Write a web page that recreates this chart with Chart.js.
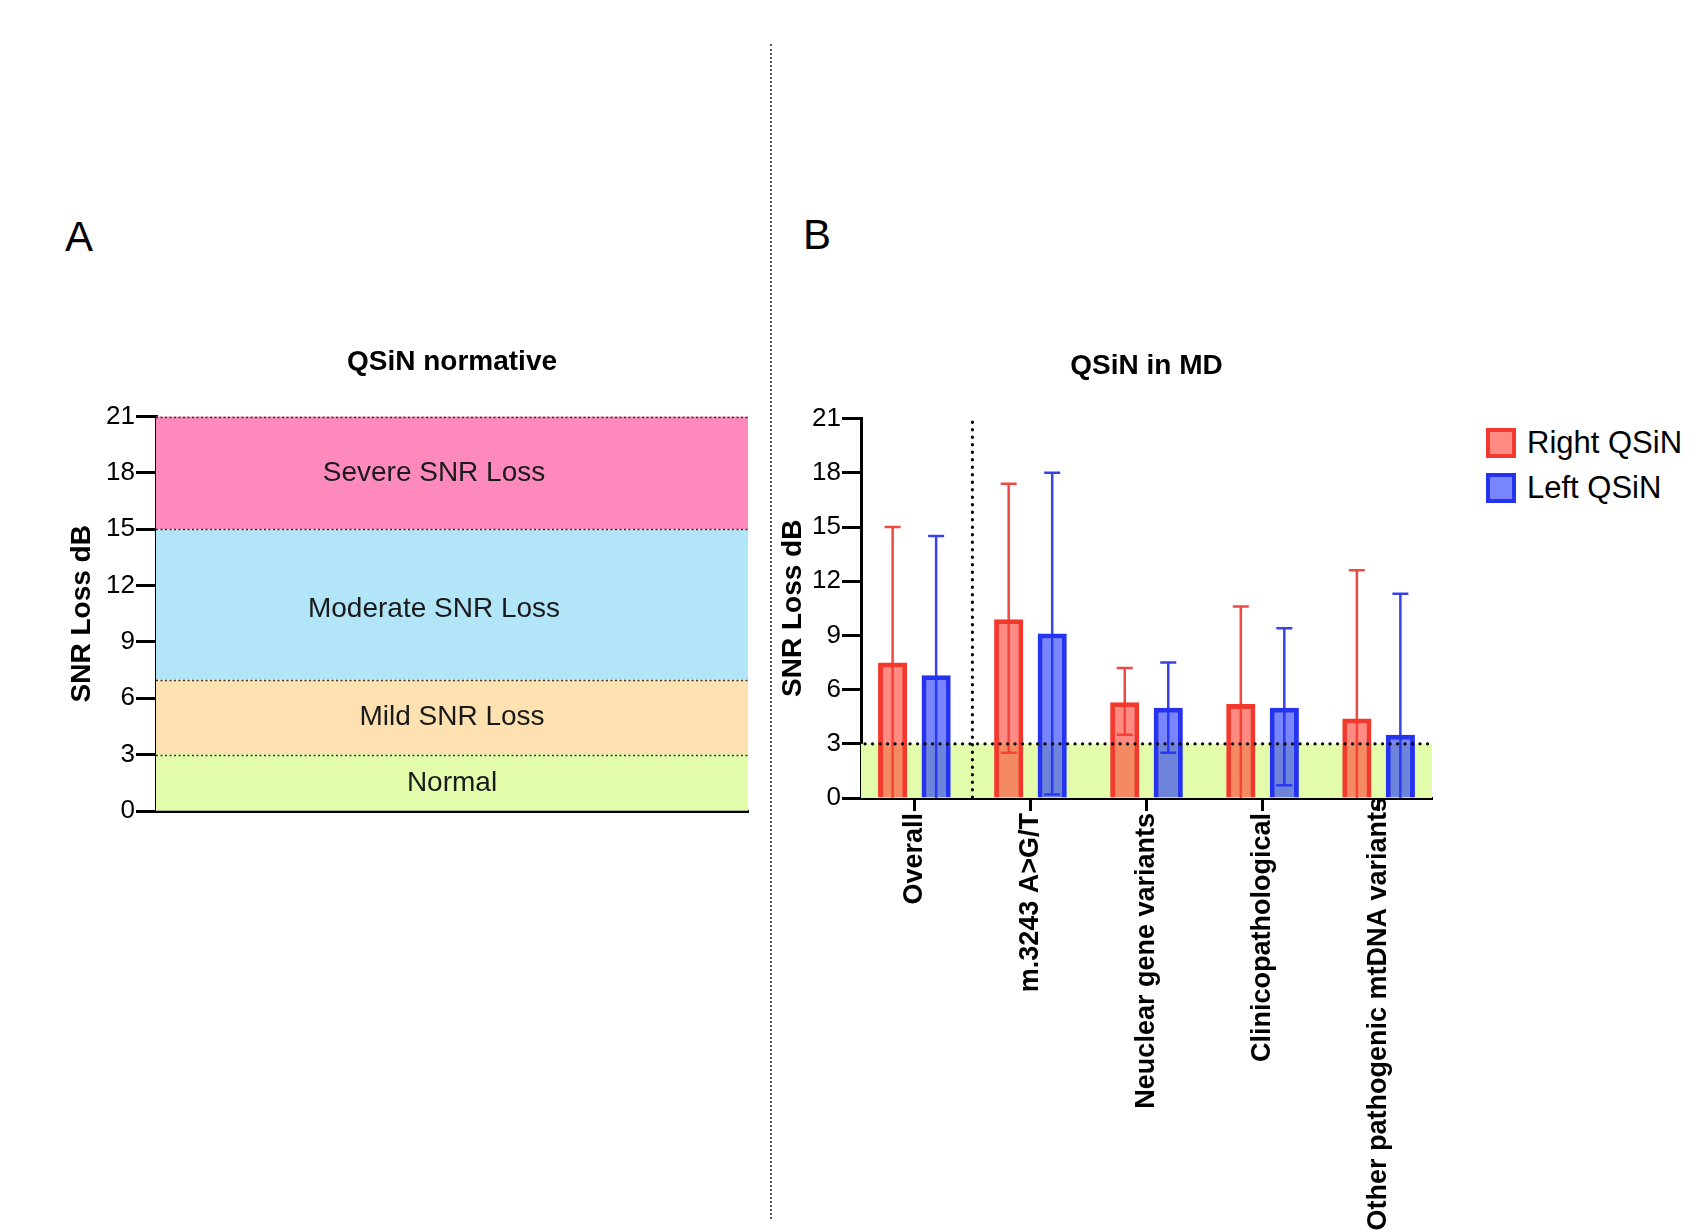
<!DOCTYPE html>
<html lang="en">
<head>
<meta charset="utf-8">
<script src="https://cdn.jsdelivr.net/npm/chart.js"></script>
<style>
  html, body { margin: 0; padding: 0; background: #fff; overflow: hidden; }
  body { width: 1707px; height: 1232px; position: relative; font-family: 'Liberation Sans', Arial, sans-serif; }
  canvas { position: absolute; }
  #chartA { left: 0; top: 320px; }
  #chartB { left: 760px; top: 320px; }
  .panel { position: absolute; font-size: 42px; line-height: 42px; color: #000; }
  #sep { position: absolute; left: 770px; top: 44px; height: 1175px; border-left: 2px dotted #555; }
  .leg { position: absolute; left: 1486px; font-size: 31px; line-height: 30px; color: #000; white-space: nowrap; }
  .leg span.box { display: inline-block; box-sizing: border-box; width: 30px; height: 30px; border-width: 4px; border-style: solid; vertical-align: top; margin-right: 11px; }
</style>
</head>
<body>

<div class="panel" style="left:65px; top:216px;">A</div>
<div class="panel" style="left:803px; top:214px;">B</div>
<div id="sep"></div>

<canvas id="chartA" width="780" height="521"></canvas>
<canvas id="chartB" width="700" height="972"></canvas>
<div id="legendB"></div>

<script>
  // ---- dados ----
  // painel A: faixas normativas
  var bandNames = ['Normal', 'Mild SNR Loss', 'Moderate SNR Loss', 'Severe SNR Loss'];
  var bandLow = [0, 3, 7, 15];
  var bandHigh = [3, 7, 15, 21];
  var bandColors = ['#e3fcab', '#fde1b1', '#b3e5f9', '#fe8abd'];

  // painel B: medias e barras de erro
  var categories = ['Overall', 'm.3243 A>G/T', 'Neuclear gene variants', 'Clinicopathological', 'Other pathogenic mtDNA variants'];
  var rightMean = [7.5, 9.9, 5.3, 5.2, 4.4];
  var rightUpper = [15.0, 17.4, 7.2, 10.6, 12.6];
  var rightLower = [0, 2.5, 3.5, 0, 0];
  var leftMean = [6.8, 9.1, 5.0, 5.0, 3.5];
  var leftUpper = [14.5, 18.0, 7.5, 9.4, 11.3];
  var leftLower = [0, 0.2, 2.5, 0.7, 0];

  var yTicksMax = 21;
  var yTickStep = 3;
  var normalCut = 3;
  var dividerTop = 20.8;

  Chart.defaults.font.family = "'Liberation Sans', Arial, sans-serif";
  Chart.defaults.color = '#000';

  // eixo y comum aos dois graficos
  function yAxis(width, tickLen) {
    return {
      min: 0,
      max: yTicksMax,
      ticks: { stepSize: yTickStep, font: { size: 26 }, color: '#000', padding: 1 },
      grid: { drawOnChartArea: false, tickLength: tickLen, tickWidth: 3, tickColor: '#000' },
      border: { display: true, width: 3, color: '#000' },
      title: { display: true, text: 'SNR Loss dB', font: { size: 28, weight: 'bold' }, color: '#000', padding: 0 },
      afterFit: function (s) { s.width = width; }
    };
  }

  // ---- grafico A: faixas ----
  var bandPlugin = {
    id: 'bandLabels',
    afterDatasetsDraw: function (chart) {
      var ctx = chart.ctx, a = chart.chartArea, y = chart.scales.y;
      var shiftX = [0, 0, -18, -18];
      var shiftY = [0, 0, 5, 0];
      ctx.save();
      // linhas pontilhadas nos limites
      ctx.strokeStyle = '#333';
      ctx.lineWidth = 1.6;
      ctx.setLineDash([2, 2.5]);
      bandHigh.forEach(function (v) {
        var py = Math.round(y.getPixelForValue(v)) + 0.5;
        ctx.beginPath();
        ctx.moveTo(a.left, py);
        ctx.lineTo(a.right, py);
        ctx.stroke();
      });
      ctx.setLineDash([]);
      ctx.fillStyle = '#1a1a1a';
      ctx.font = "28px 'Liberation Sans', Arial, sans-serif";
      ctx.textAlign = 'center';
      ctx.textBaseline = 'middle';
      bandNames.forEach(function (name, i) {
        var py = y.getPixelForValue((bandLow[i] + bandHigh[i]) / 2);
        ctx.fillText(name, (a.left + a.right) / 2 + shiftX[i], py + shiftY[i]);
      });
      ctx.restore();
    }
  };

  var configA = {
    type: 'bar',
    data: {
      labels: [''],
      datasets: bandNames.map(function (n, i) {
        return {
          label: n,
          data: [[bandLow[i], bandHigh[i]]],
          backgroundColor: bandColors[i],
          borderWidth: 0,
          barPercentage: 1,
          categoryPercentage: 1,
          grouped: false
        };
      })
    },
    options: {
      responsive: false,
      animation: false,
      layout: { padding: { left: 65, top: 0, right: 32, bottom: 30 } },
      plugins: {
        legend: { display: false },
        tooltip: { enabled: false },
        title: {
          display: true, text: 'QSiN normative', fullSize: false,
          font: { size: 28, weight: 'bold' }, color: '#000',
          padding: { top: 25, bottom: 38 }
        }
      },
      scales: {
        x: {
          ticks: { display: false },
          grid: { drawOnChartArea: false, drawTicks: false },
          border: { display: true, width: 3, color: '#000' },
          afterFit: function (s) { s.height = 0; }
        },
        y: yAxis(91, 20)
      }
    },
    plugins: [bandPlugin]
  };
  new Chart(document.getElementById('chartA').getContext('2d'), configA);

  // ---- grafico B: barras com erro ----
  var mdPlugin = {
    id: 'mdExtras',
    beforeDraw: function (chart) {
      // o ultimo rotulo sobe ate o eixo, como na figura
      var sx = chart.scales.x;
      if (typeof sx.getLabelItems !== 'function') return;
      var items = sx.getLabelItems();
      var last = items[items.length - 1];
      if (last && !last._moved) {
        last.options.translation[1] -= 16;
        last._moved = true;
      }
    },
    beforeDatasetsDraw: function (chart) {
      var ctx = chart.ctx, a = chart.chartArea, y = chart.scales.y;
      ctx.save();
      // faixa normal (0-3)
      var y3 = y.getPixelForValue(normalCut);
      ctx.fillStyle = bandColors[0];
      ctx.fillRect(a.left, y3, a.right - a.left, y.getPixelForValue(0) - y3);
      // barras de erro (atras das barras)
      chart.data.datasets.forEach(function (ds, di) {
        var meta = chart.getDatasetMeta(di);
        ctx.strokeStyle = ds.errColor;
        ctx.lineWidth = 2.5;
        meta.data.forEach(function (bar, i) {
          var hi = y.getPixelForValue(ds.errHigh[i]);
          var lo = y.getPixelForValue(ds.errLow[i]);
          ctx.beginPath();
          ctx.moveTo(bar.x, hi);
          ctx.lineTo(bar.x, lo);
          ctx.moveTo(bar.x - 8, hi);
          ctx.lineTo(bar.x + 8, hi);
          if (ds.errLow[i] > 0) {
            ctx.moveTo(bar.x - 8, lo);
            ctx.lineTo(bar.x + 8, lo);
          }
          ctx.stroke();
        });
      });
      ctx.restore();
    },
    afterDatasetsDraw: function (chart) {
      var ctx = chart.ctx, a = chart.chartArea, x = chart.scales.x, y = chart.scales.y;
      ctx.save();
      ctx.strokeStyle = '#000';
      ctx.lineWidth = 3.2;
      ctx.lineCap = 'round';
      ctx.setLineDash([0.1, 7.4]);
      var y3 = y.getPixelForValue(normalCut);
      ctx.beginPath();
      ctx.moveTo(a.left + 4, y3);
      ctx.lineTo(a.right, y3);
      ctx.stroke();
      var xd = x.getPixelForValue(0.5);
      ctx.beginPath();
      ctx.moveTo(xd, y.getPixelForValue(dividerTop));
      ctx.lineTo(xd, y.getPixelForValue(0));
      ctx.stroke();
      ctx.restore();
    }
  };

  function points(values) {
    return values.map(function (v, i) { return { x: i, y: v }; });
  }

  var configB = {
    type: 'bar',
    data: {
      datasets: [
        {
          label: 'Right QSiN',
          data: points(rightMean),
          errHigh: rightUpper,
          errLow: rightLower,
          errColor: '#ec4a43',
          backgroundColor: 'rgba(255, 62, 50, 0.6)',
          borderColor: '#f3392e',
          borderWidth: 5
        },
        {
          label: 'Left QSiN',
          data: points(leftMean),
          errHigh: leftUpper,
          errLow: leftLower,
          errColor: '#3a42e2',
          backgroundColor: 'rgba(30, 52, 250, 0.6)',
          borderColor: '#2532ee',
          borderWidth: 5
        }
      ]
    },
    options: {
      responsive: false,
      animation: false,
      datasets: { bar: { categoryPercentage: 0.75, barPercentage: 0.67 } },
      layout: { padding: { left: 16, top: 0, right: 28, bottom: 0 } },
      plugins: {
        legend: { display: false },
        tooltip: { enabled: false },
        title: {
          display: true, text: 'QSiN in MD', fullSize: false,
          font: { size: 28, weight: 'bold' }, color: '#000',
          padding: { top: 29, bottom: 36 }
        }
      },
      scales: {
        x: {
          type: 'linear',
          offset: false,
          min: -0.46,
          max: categories.length - 1 + 0.46,
          afterBuildTicks: function (s) {
            s.ticks = categories.map(function (c, i) { return { value: i }; });
          },
          ticks: {
            callback: function (v) { return categories[v]; },
            font: { size: 27, weight: 'bold' }, color: '#000',
            minRotation: 90, maxRotation: 90, autoSkip: false, padding: 2
          },
          grid: { offset: false, drawOnChartArea: false, tickLength: 13, tickWidth: 3, tickColor: '#000' },
          border: { display: true, width: 3, color: '#000' },
          afterFit: function (s) { s.height = 494; }
        },
        y: yAxis(85, 19)
      }
    },
    plugins: [mdPlugin]
  };
  var chartB = new Chart(document.getElementById('chartB').getContext('2d'), configB);

  // legenda em HTML, a partir dos datasets
  var legendB = document.getElementById('legendB');
  chartB.data.datasets.forEach(function (ds, i) {
    var item = document.createElement('div');
    item.className = 'leg';
    item.style.top = (428 + i * 45) + 'px';
    item.innerHTML = '<span class="box" style="background:' + ds.backgroundColor +
      ';border-color:' + ds.borderColor + '"></span>' + ds.label;
    legendB.appendChild(item);
  });
</script>
</body>
</html>
